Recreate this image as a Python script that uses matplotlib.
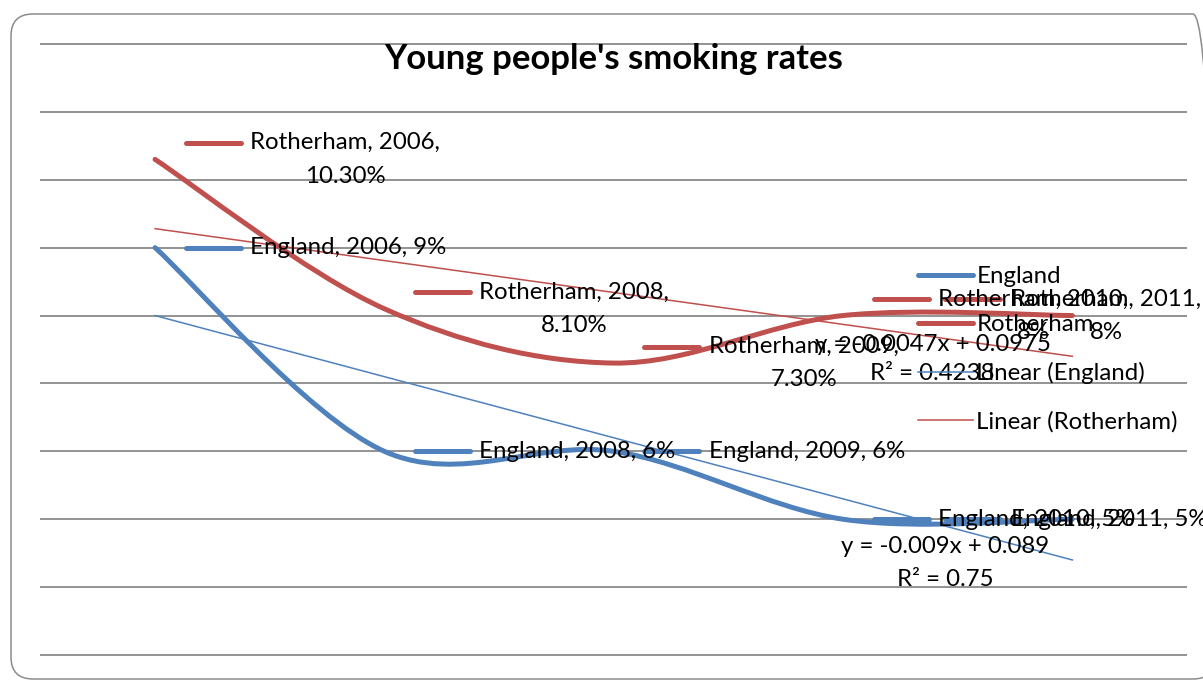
import matplotlib.pyplot as plt
import numpy as np
from matplotlib.path import Path
from matplotlib.patches import PathPatch, FancyBboxPatch
from matplotlib.lines import Line2D
from matplotlib.markers import MarkerStyle
from matplotlib import transforms

plt.rcParams['font.family'] = ['Lato', 'DejaVu Sans']

years = ['2006', '2008', '2009', '2010', '2011']
england = [0.09, 0.06, 0.06, 0.05, 0.05]
rotherham = [0.103, 0.081, 0.073, 0.08, 0.08]
england_dp = [0, 0, 0, 0, 0]      # decimals shown in the data labels
rotherham_dp = [2, 2, 2, 0, 0]

BLUE = '#4F81BD'
RED = '#C0504D'
GRID = '#8A8A8A'
FS = 17.3


def smooth_path(xs, ys):
    # bezier smoothing like the spreadsheet "smoothed line" option
    pts = list(zip(xs, ys))
    n = len(pts)
    verts = [pts[0]]
    codes = [Path.MOVETO]
    for i in range(n - 1):
        p0 = pts[i - 1] if i > 0 else pts[i]
        p1 = pts[i]
        p2 = pts[i + 1]
        p3 = pts[i + 2] if i + 2 < n else pts[i + 1]
        c1 = (p1[0] + (p2[0] - p0[0]) / 6, p1[1] + (p2[1] - p0[1]) / 6)
        c2 = (p2[0] - (p3[0] - p1[0]) / 6, p2[1] - (p3[1] - p1[1]) / 6)
        verts += [c1, c2, p2]
        codes += [Path.CURVE4] * 3
    return Path(verts, codes)


def main():
    fig = plt.figure(figsize=(12.03, 6.8), dpi=100)
    ax = fig.add_axes([40.4 / 1203, 25 / 680, 1146.6 / 1203, 611 / 680])
    ax.set_xlim(0.5, 5.5)
    ax.set_ylim(0.03, 0.12)
    ax.axis('off')

    # outer chart border
    border = FancyBboxPatch((11, 1), 1204, 665, boxstyle='round,pad=0,rounding_size=22',
                            transform=transforms.IdentityTransform(),
                            fc='none', ec='#8C8C8C', lw=1.1)
    fig.patches.append(border)

    for g in np.arange(0.03, 0.1201, 0.01):
        ax.hlines(g, 0.5, 5.5, color=GRID, lw=1.3, clip_on=False, zorder=1)

    x = np.arange(1, len(years) + 1)

    for vals, col in [(rotherham, RED), (england, BLUE)]:
        patch = PathPatch(smooth_path(x, vals), fc='none', ec=col, lw=3.6,
                          capstyle='round', zorder=3)
        ax.add_patch(patch)

    # linear trendlines
    fits = {}
    for name, vals, col in [('England', england, BLUE), ('Rotherham', rotherham, RED)]:
        m, c = np.polyfit(x, vals, 1)
        pred = m * x + c
        r2 = 1 - np.sum((np.array(vals) - pred) ** 2) / np.sum((np.array(vals) - np.mean(vals)) ** 2)
        fits[name] = (m, c, r2)
        ax.plot([x[0], x[-1]], [m * x[0] + c, m * x[-1] + c], color=col, lw=1.1, zorder=2)

    # data labels with legend keys
    key = MarkerStyle('_', capstyle='round')
    for name, vals, dps, col in [('Rotherham', rotherham, rotherham_dp, RED),
                                 ('England', england, england_dp, BLUE)]:
        for i in range(len(years)):
            txt = f'{name}, {years[i]}, {vals[i] * 100:.{dps[i]}f}%'
            two_lines = len(txt) > 18
            if two_lines:
                head, tail = txt.rsplit(' ', 1)
                txt = head + '\n' + tail
            if i == len(years) - 1:
                kx, tx = -100, -61
            else:
                kx, tx = 57.5, 95
            ky = 16.5 if two_lines else 0
            tr = transforms.offset_copy(ax.transData, fig, x=kx, y=ky, units='dots')
            ax.plot(x[i], vals[i], marker=key, ms=39.6, mew=3.6, color=col,
                    transform=tr, zorder=4, clip_on=False)
            ax.annotate(txt, (x[i], vals[i]), xytext=(tx, 0), textcoords='offset pixels',
                        ha='left', va='center', multialignment='center', linespacing=1.72,
                        fontsize=FS, zorder=5, annotation_clip=False)

    # trendline equations
    eq_pos = {'Rotherham': (4.39, 0.0736), 'England': (4.445, 0.0436)}
    eq_gap = {'Rotherham': 1.45, 'England': 1.7}
    for name in ['Rotherham', 'England']:
        m, c, r2 = fits[name]
        s = f'y = {m:.4g}x + {c:.4g}\nR\u00b2 = {r2:.4g}'
        ax.text(eq_pos[name][0], eq_pos[name][1], s, ha='center', va='center',
                multialignment='center', linespacing=eq_gap[name], fontsize=FS, zorder=5)

    handles = [Line2D([], [], color=BLUE, lw=3.6, solid_capstyle='round'),
               Line2D([], [], color=RED, lw=3.6, solid_capstyle='round'),
               Line2D([], [], color=BLUE, lw=1.1),
               Line2D([], [], color=RED, lw=1.1)]
    labels = ['England', 'Rotherham', 'Linear (England)', 'Linear (Rotherham)']
    fig.legend(handles, labels, loc='upper left', bbox_to_anchor=(918 / 1203, 1 - 266 / 680),
               frameon=False, borderpad=0, borderaxespad=0, fontsize=FS,
               handlelength=2.3, handletextpad=0.13, labelspacing=1.12)

    fig.text(614 / 1203, 1 - 59 / 680, "Young people's smoking rates", ha='center', va='center',
             fontsize=24.9, fontweight='bold')

    plt.savefig('out.png', dpi=100)


if __name__ == '__main__':
    main()
